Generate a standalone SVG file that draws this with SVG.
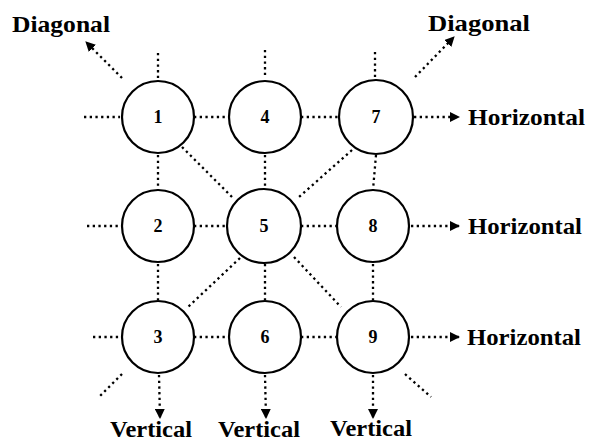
<svg xmlns="http://www.w3.org/2000/svg" width="589" height="442" viewBox="0 0 589 442">
<style>
.c{fill:#fff;stroke:#000;stroke-width:2.2}
.n{font-family:"Liberation Serif",serif;font-size:18px;font-weight:bold;text-anchor:middle}
.l{font-family:"Liberation Serif",serif;font-size:23px;font-weight:bold}
.d{fill:none;stroke:#000;stroke-width:2.3;stroke-dasharray:2.3 3.4}
</style>
<defs>
<marker id="a" viewBox="0 0 10 10" refX="9" refY="5" markerWidth="10" markerHeight="10" markerUnits="userSpaceOnUse" orient="auto">
<path d="M0,0 L10,5 L0,10 Z" fill="#000"/>
</marker>
</defs>
<g id="connectors">
<line class="d" x1="194" y1="117" x2="229" y2="117"/>
<line class="d" x1="301" y1="117" x2="340" y2="117"/>
<line class="d" x1="194" y1="226" x2="228" y2="226"/>
<line class="d" x1="301" y1="226" x2="337" y2="226"/>
<line class="d" x1="194" y1="337" x2="229" y2="337"/>
<line class="d" x1="301" y1="337" x2="337" y2="337"/>
<line class="d" x1="84" y1="117" x2="120" y2="117"/>
<line class="d" x1="87" y1="226" x2="120" y2="226"/>
<line class="d" x1="93" y1="337" x2="120" y2="337"/>
<line class="d" x1="414" y1="117" x2="459" y2="117" marker-end="url(#a)"/>
<line class="d" x1="411" y1="226" x2="459" y2="226" marker-end="url(#a)"/>
<line class="d" x1="411" y1="337" x2="459" y2="337" marker-end="url(#a)"/>
<line class="d" x1="158" y1="53" x2="158" y2="79"/>
<line class="d" x1="265" y1="50" x2="265" y2="78"/>
<line class="d" x1="375" y1="52" x2="375" y2="77"/>
<line class="d" x1="158" y1="155" x2="158" y2="190"/>
<line class="d" x1="265" y1="155" x2="265" y2="190"/>
<line class="d" x1="376" y1="155" x2="373" y2="190"/>
<line class="d" x1="158" y1="264" x2="158" y2="300"/>
<line class="d" x1="265" y1="264" x2="265" y2="300"/>
<line class="d" x1="373" y1="264" x2="373" y2="300"/>
<line class="d" x1="159" y1="375" x2="160" y2="418" marker-end="url(#a)"/>
<line class="d" x1="265" y1="375" x2="266" y2="418" marker-end="url(#a)"/>
<line class="d" x1="373" y1="375" x2="373" y2="418" marker-end="url(#a)"/>
<line class="d" x1="122" y1="78" x2="86" y2="42" marker-end="url(#a)"/>
<line class="d" x1="415" y1="77" x2="454" y2="37" marker-end="url(#a)"/>
<line class="d" x1="182" y1="147" x2="233" y2="198"/>
<line class="d" x1="352" y1="150" x2="299" y2="197"/>
<line class="d" x1="240" y1="258" x2="187" y2="308"/>
<line class="d" x1="294" y1="257" x2="341" y2="307"/>
<line class="d" x1="122" y1="374" x2="100" y2="396"/>
<line class="d" x1="405" y1="374" x2="431" y2="397"/>
</g>
<g id="n1"><circle class="c" cx="158" cy="117" r="36"/><text class="n" x="158" y="123">1</text></g>
<g id="n4"><circle class="c" cx="265" cy="117" r="36"/><text class="n" x="265" y="123">4</text></g>
<g id="n7"><circle class="c" cx="376" cy="117" r="37"/><text class="n" x="376" y="123">7</text></g>
<g id="n2"><circle class="c" cx="158" cy="226" r="36"/><text class="n" x="158" y="232">2</text></g>
<g id="n5"><circle class="c" cx="264" cy="226" r="37"/><text class="n" x="264" y="232">5</text></g>
<g id="n8"><circle class="c" cx="373" cy="226" r="36"/><text class="n" x="373" y="232">8</text></g>
<g id="n3"><circle class="c" cx="158" cy="337" r="36"/><text class="n" x="158" y="343">3</text></g>
<g id="n6"><circle class="c" cx="265" cy="337" r="36"/><text class="n" x="265" y="343">6</text></g>
<g id="n9"><circle class="c" cx="373" cy="337" r="36"/><text class="n" x="373" y="343">9</text></g>
<g id="labels">
<text class="l" x="12" y="32" textLength="98" lengthAdjust="spacingAndGlyphs">Diagonal</text>
<text class="l" x="428" y="31" textLength="102" lengthAdjust="spacingAndGlyphs">Diagonal</text>
<text class="l" x="468" y="125" textLength="117" lengthAdjust="spacingAndGlyphs">Horizontal</text>
<text class="l" x="468" y="234" textLength="114" lengthAdjust="spacingAndGlyphs">Horizontal</text>
<text class="l" x="467" y="345" textLength="114" lengthAdjust="spacingAndGlyphs">Horizontal</text>
<text class="l" x="110" y="437" textLength="82" lengthAdjust="spacingAndGlyphs">Vertical</text>
<text class="l" x="218" y="437" textLength="82" lengthAdjust="spacingAndGlyphs">Vertical</text>
<text class="l" x="330" y="436" textLength="82" lengthAdjust="spacingAndGlyphs">Vertical</text>
</g>
</svg>
